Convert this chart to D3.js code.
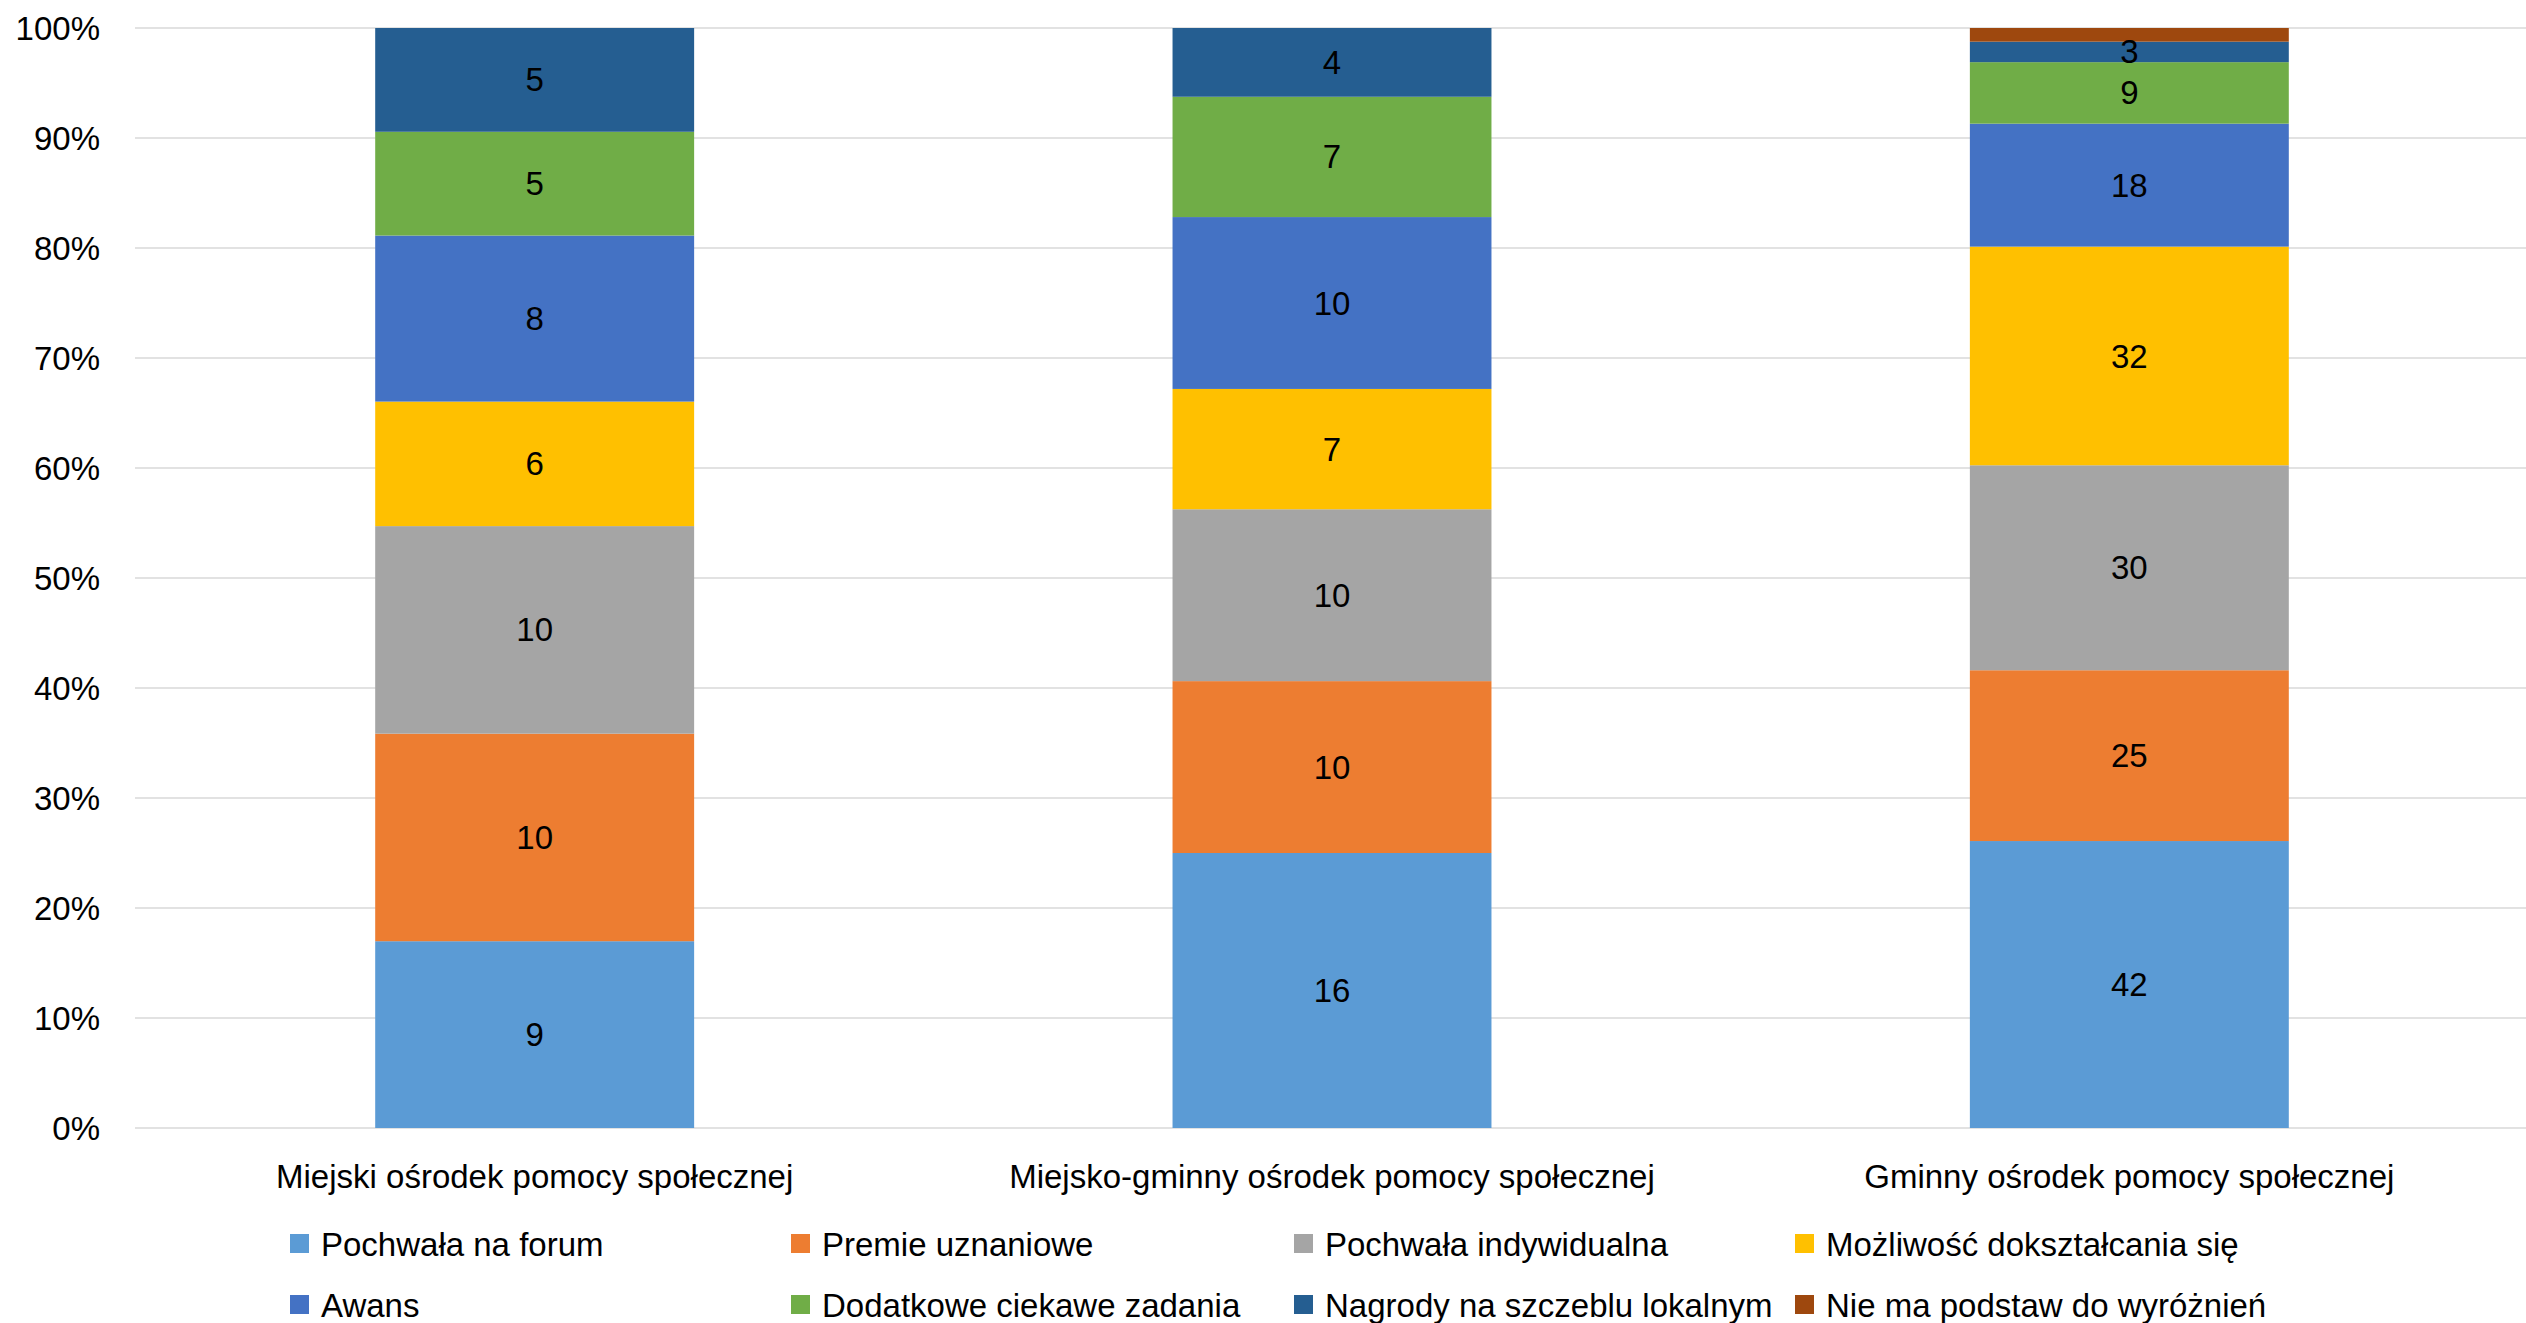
<!DOCTYPE html>
<html><head><meta charset="utf-8">
<script src="https://cdn.jsdelivr.net/npm/d3@7"></script>
<style>body{margin:0;background:#fff}svg{display:block}text{font-family:"Liberation Sans",Arial,sans-serif;fill:#000}</style>
</head><body>
<svg id="c" width="2526" height="1323"></svg>
<script>
const categories = ["Miejski ośrodek pomocy społecznej","Miejsko-gminny ośrodek pomocy społecznej","Gminny ośrodek pomocy społecznej"];
const seriesNames = ["Pochwała na forum","Premie uznaniowe","Pochwała indywidualna","Możliwość dokształcania się","Awans","Dodatkowe ciekawe zadania","Nagrody na szczeblu lokalnym","Nie ma podstaw do wyróżnień"];
const pochwalaForum = [9,16,42];
const premie = [10,10,25];
const pochwalaIndyw = [10,10,30];
const mozliwosc = [6,7,32];
const awans = [8,10,18];
const dodatkowe = [5,7,9];
const nagrody = [5,4,3];
const nieMaPodstaw = [0,0,2];
const showLabel = [true,true,true,true,true,true,true,false];
const colors = ["#5B9BD5","#ED7D31","#A5A5A5","#FFC000","#4472C4","#70AD47","#255E91","#9E480E"];
const tickValues = [0,0.1,0.2,0.3,0.4,0.5,0.6,0.7,0.8,0.9,1];

const seriesVals = [pochwalaForum,premie,pochwalaIndyw,mozliwosc,awans,dodatkowe,nagrody,nieMaPodstaw];
const rows = categories.map((c,i)=>{
  const r={cat:c}; let tot=0;
  seriesNames.forEach((s,j)=>{r[s]=seriesVals[j][i]; tot+=seriesVals[j][i];});
  r.total=tot; return r;
});
const stacked = d3.stack().keys(seriesNames).offset(d3.stackOffsetExpand)(rows);

const svg = d3.select("#c");
const L=136, R=2528, T=28, B=1128;
const x = d3.scaleBand().domain(categories).range([L,R]).padding(0);
const y = d3.scaleLinear().domain([0,1]).range([B,T]);
const bw = x.bandwidth()*0.4;
const FS = 33;

// gridlines
svg.append("g").selectAll("line").data(tickValues).join("line")
  .attr("x1",L-1).attr("x2",2526).attr("y1",d=>y(d)).attr("y2",d=>y(d))
  .attr("stroke","#D9D9D9").attr("stroke-width",1.5);

// y axis labels
const yAxis = d3.axisLeft(y).tickValues(tickValues).tickFormat(d3.format(".0%")).tickSize(0).tickPadding(0);
const ga = svg.append("g").attr("transform",`translate(${L-36},0)`).call(yAxis);
ga.select(".domain").remove();
ga.selectAll("text").attr("font-size",FS).attr("font-family","'Liberation Sans',Arial,sans-serif").attr("fill","#000").attr("dy","0.35em");

// bars
const gs = svg.append("g").selectAll("g").data(stacked).join("g").attr("fill",(d,i)=>colors[i]);
gs.selectAll("rect").data(d=>d).join("rect")
  .attr("x",d=>x(d.data.cat)+x.bandwidth()/2-bw/2)
  .attr("width",bw)
  .attr("y",d=>y(d[1]))
  .attr("height",d=>Math.max(0,y(d[0])-y(d[1])));

// labels
stacked.forEach((s,j)=>{
  if(!showLabel[j]) return;
  svg.append("g").selectAll("text").data(s.filter(d=>d.data[s.key]>0)).join("text")
    .attr("x",d=>x(d.data.cat)+x.bandwidth()/2)
    .attr("y",d=>(y(d[0])+y(d[1]))/2)
    .attr("dy","0.35em").attr("text-anchor","middle").attr("font-size",FS)
    .text(d=>d.data[s.key]);
});

// category labels
svg.append("g").selectAll("text").data(categories).join("text")
  .attr("x",d=>x(d)+x.bandwidth()/2).attr("y",1176).attr("dy","0.35em")
  .attr("text-anchor","middle").attr("font-size",FS).text(d=>d);

// legend
const legX=[290,791,1294,1795], legY=[1244,1305];
const lg = svg.append("g").selectAll("g").data(seriesNames).join("g")
  .attr("transform",(d,i)=>`translate(${legX[i%4]},${legY[Math.floor(i/4)]})`);
lg.append("rect").attr("x",0).attr("y",-10).attr("width",19).attr("height",19).attr("fill",(d,i)=>colors[i]);
lg.append("text").attr("x",31).attr("y",0).attr("dy","0.35em").attr("font-size",FS).text(d=>d);
</script>
</body></html>
